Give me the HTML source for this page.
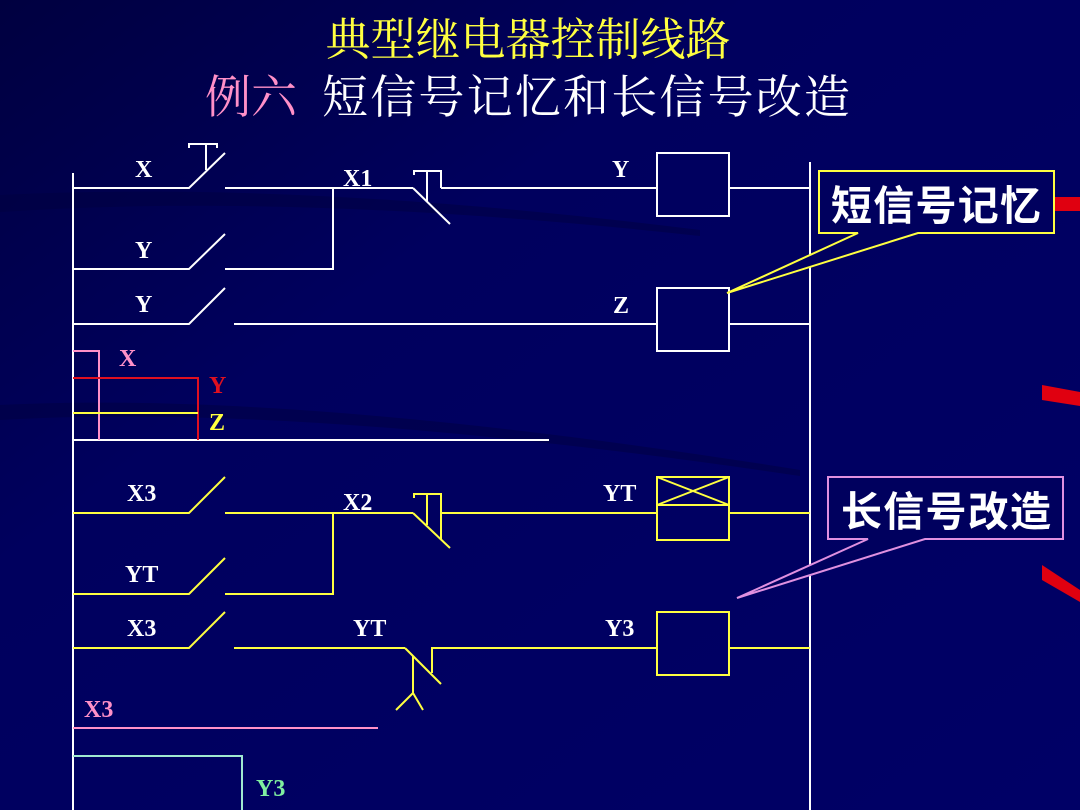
<!DOCTYPE html>
<html><head><meta charset="utf-8"><style>
html,body{margin:0;padding:0;background:#00005e;}
svg{display:block}
text{font-family:"Liberation Serif","Noto Serif CJK SC",serif;font-weight:bold}
.cj{font-family:"Liberation Sans","Noto Sans CJK SC",sans-serif}
.sf{font-family:"Liberation Serif","Noto Serif CJK SC",serif;font-weight:normal}
</style></head><body>
<svg width="1080" height="810" viewBox="0 0 1080 810" xmlns="http://www.w3.org/2000/svg">
<defs>
<linearGradient id="bg" x1="0" y1="0" x2="1" y2="1">
<stop offset="0" stop-color="#000040"/><stop offset="0.35" stop-color="#00005e"/><stop offset="1" stop-color="#000066"/>
</linearGradient>
</defs>
<rect width="1080" height="810" fill="url(#bg)"/>
<path d="M0 195 Q300 180 700 230 L700 236 Q300 192 0 212Z" fill="#000040" opacity="0.5"/>
<path d="M0 405 Q300 390 800 470 L800 476 Q300 402 0 420Z" fill="#000040" opacity="0.5"/>
<!-- red streaks -->
<rect x="1040" y="197" width="40" height="14" fill="#e00010"/>
<polygon points="1042,385 1080,392 1080,406 1042,400" fill="#e00010"/>
<polygon points="1042,565 1080,590 1080,602 1042,580" fill="#e00010"/>

<!-- title -->
<text x="528" y="55" class="sf" font-size="45" fill="#ffff40" text-anchor="middle">典型继电器控制线路</text>
<text x="205" y="113" class="sf" font-size="46" fill="#ff90c8">例六</text>
<text x="322" y="113" class="sf" font-size="46" fill="#ffffff" textLength="528">短信号记忆和长信号改造</text>

<g stroke="#ffffff" stroke-width="2" fill="none">
<line x1="73" y1="173" x2="73" y2="810"/>
<line x1="810" y1="162" x2="810" y2="810"/>
<polyline points="73,188 189,188 225,153"/>
<line x1="225" y1="188" x2="413" y2="188"/>
<polyline points="189,148 189,144 217,144 217,148"/>
<line x1="206" y1="144" x2="206" y2="170"/>
<line x1="413" y1="188" x2="450" y2="224"/>
<polyline points="414,175 414,171 441,171 441,188"/>
<line x1="427" y1="171" x2="427" y2="201"/>
<line x1="441" y1="188" x2="657" y2="188"/>
<rect x="657" y="153" width="72" height="63"/>
<line x1="729" y1="188" x2="810" y2="188"/>
<polyline points="73,269 189,269 225,234"/>
<polyline points="225,269 333,269 333,188"/>
<polyline points="73,324 189,324 225,288"/>
<line x1="234" y1="324" x2="657" y2="324"/>
<rect x="657" y="288" width="72" height="63"/>
<line x1="729" y1="324" x2="810" y2="324"/>
<line x1="73" y1="440" x2="549" y2="440"/>
</g>
<polyline points="73,351 99,351 99,440" stroke="#ff90c8" stroke-width="2" fill="none"/>
<polyline points="73,378 198,378 198,440" stroke="#e01020" stroke-width="2" fill="none"/>
<line x1="73" y1="413" x2="198" y2="413" stroke="#ffff40" stroke-width="2"/>

<g stroke="#ffff40" stroke-width="2" fill="none">
<polyline points="73,513 189,513 225,477"/>
<line x1="225" y1="513" x2="413" y2="513"/>
<polyline points="225,594 333,594 333,513"/>
<polyline points="73,594 189,594 225,558"/>
<line x1="413" y1="513" x2="450" y2="548"/>
<polyline points="414,498 414,494 441,494 441,540"/>
<line x1="427" y1="494" x2="427" y2="525"/>
<line x1="441" y1="513" x2="657" y2="513"/>
<rect x="657" y="477" width="72" height="63"/>
<line x1="657" y1="505" x2="729" y2="505"/>
<line x1="657" y1="477" x2="729" y2="505"/>
<line x1="729" y1="477" x2="657" y2="505"/>
<line x1="729" y1="513" x2="810" y2="513"/>
<polyline points="73,648 189,648 225,612"/>
<line x1="234" y1="648" x2="405" y2="648"/>
<line x1="405" y1="648" x2="441" y2="684"/>
<line x1="413" y1="656" x2="413" y2="693"/>
<polyline points="396,710 413,693 423,710"/>
<polyline points="432,673 432,648 657,648"/>
<rect x="657" y="612" width="72" height="63"/>
<line x1="729" y1="648" x2="810" y2="648"/>
</g>
<line x1="73" y1="728" x2="378" y2="728" stroke="#ff90c8" stroke-width="2"/>
<polyline points="73,756 242,756 242,810" stroke="#a0e8d0" stroke-width="2" fill="none"/>

<g font-size="24" fill="#ffffff">
<text x="135" y="177">X</text>
<text x="343" y="186">X1</text>
<text x="612" y="177">Y</text>
<text x="135" y="258">Y</text>
<text x="135" y="312">Y</text>
<text x="613" y="313">Z</text>
<text x="127" y="501">X3</text>
<text x="343" y="510">X2</text>
<text x="603" y="501">YT</text>
<text x="125" y="582">YT</text>
<text x="127" y="636">X3</text>
<text x="353" y="636">YT</text>
<text x="605" y="636">Y3</text>
</g>
<text x="119" y="366" font-size="24" fill="#ff90c8">X</text>
<text x="209" y="393" font-size="24" fill="#e01020">Y</text>
<text x="209" y="430" font-size="24" fill="#ffff40">Z</text>
<text x="84" y="717" font-size="24" fill="#ff90c8">X3</text>
<text x="256" y="796" font-size="24" fill="#80f0a0">Y3</text>

<path d="M819,171 H1054 V233 H918 L727,293 L858,233 H819 Z" fill="#00005e" stroke="#ffff40" stroke-width="2"/>
<text x="831" y="220" class="cj" font-size="41" fill="#ffffff" textLength="210">短信号记忆</text>
<path d="M828,477 H1063 V539 H925 L737,598 L868,539 H828 Z" fill="#00005e" stroke="#e090e0" stroke-width="2"/>
<text x="841" y="526" class="cj" font-size="41" fill="#ffffff" textLength="210">长信号改造</text>
</svg>
</body></html>
